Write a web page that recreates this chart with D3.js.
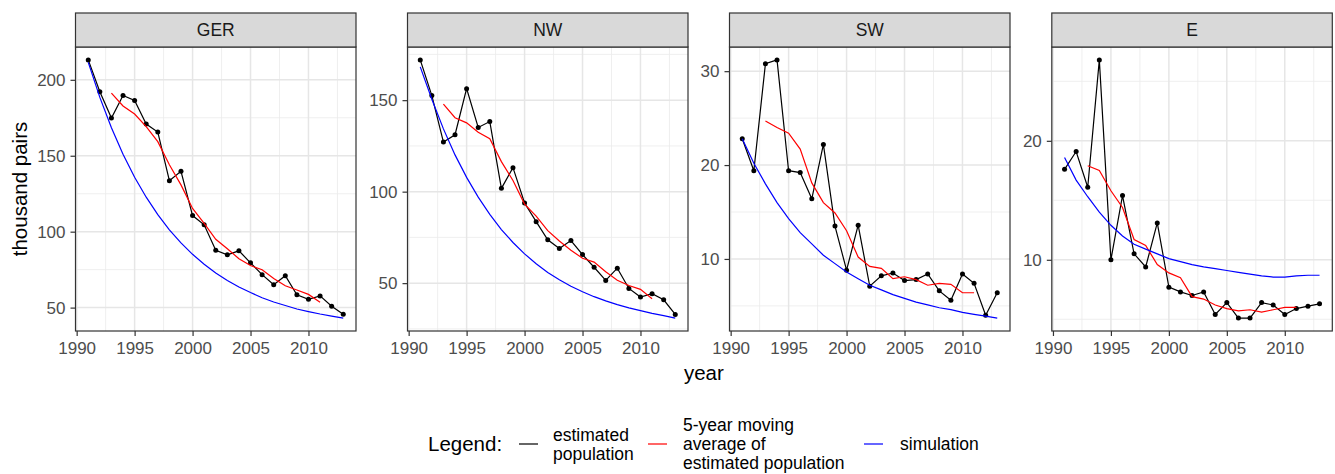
<!DOCTYPE html>
<html>
<head>
<meta charset="utf-8">
<script src="https://cdn.jsdelivr.net/npm/d3@7"></script>
<style>
  html, body { margin: 0; padding: 0; background: #ffffff; }
  svg { display: block; font-family: "Liberation Sans", Arial, sans-serif; }
</style>
</head>
<body>
<script>
// ---------------- data ----------------
const years = [1991,1992,1993,1994,1995,1996,1997,1998,1999,2000,2001,2002,2003,2004,2005,2006,2007,2008,2009,2010,2011,2012,2013];
const avgYears = [1993,1994,1995,1996,1997,1998,1999,2000,2001,2002,2003,2004,2005,2006,2007,2008,2009,2010,2011];
const regions = ["GER", "NW", "SW", "E"];

const gerEstimated = [213.1,192.1,174.8,189.7,186.4,170.9,165.6,133.6,139.8,110.6,104.5,87.8,84.8,87.4,79.5,71.7,65.1,71.0,58.5,55.5,57.7,50.9,45.6];
const gerAverage   = [191.2,182.8,177.5,169.2,159.3,144.1,130.8,115.3,105.5,95.0,88.8,82.2,77.7,74.9,69.2,64.4,61.6,58.7,53.6];
const gerSimulation= [211.5,188.4,168.4,151.0,135.8,122.7,111.2,101.2,92.6,85.1,78.6,72.8,67.8,63.6,59.9,56.5,53.7,51.4,49.1,47.4,45.8,44.4,43.1];

const nwEstimated  = [172.0,152.5,127.1,131.1,156.3,135.1,138.3,101.8,113.1,93.8,83.6,73.7,68.9,73.3,65.6,58.7,51.5,58.2,47.1,42.4,44.2,40.9,32.9];
const nwAverage    = [147.8,140.4,137.6,132.5,128.9,116.4,106.1,93.2,86.6,78.7,73.0,68.0,63.6,61.5,56.2,51.6,48.7,46.6,41.5];
const nwSimulation = [168.2,150.5,134.3,120.1,107.8,97.0,87.6,79.3,72.2,66.0,60.6,55.8,51.8,48.3,45.3,42.6,40.3,38.3,36.5,35.0,33.5,32.2,30.9];

const swEstimated  = [22.8,19.4,30.8,31.2,19.4,19.2,16.4,22.2,13.5,8.8,13.6,7.1,8.2,8.5,7.7,7.8,8.4,6.6,5.6,8.4,7.4,4.0,6.4];
const swAverage    = [24.7,24.0,23.4,21.7,18.1,16.0,14.9,13.0,10.2,9.2,9.0,7.9,8.1,7.8,7.2,7.4,7.3,6.4,6.4];
const swSimulation = [22.8,20.2,18.0,16.0,14.3,12.8,11.6,10.4,9.5,8.6,7.9,7.2,6.7,6.2,5.8,5.4,5.1,4.8,4.6,4.3,4.1,3.9,3.7];

const eEstimated   = [17.6,19.1,16.1,26.8,10.0,15.4,10.5,9.4,13.1,7.7,7.3,7.0,7.3,5.4,6.4,5.1,5.1,6.4,6.2,5.4,5.9,6.1,6.3];
const eAverage     = [17.9,17.5,15.8,14.4,11.7,11.2,9.6,8.9,8.5,6.9,6.7,6.2,5.9,5.7,5.8,5.6,5.8,6.0,6.0];
const eSimulation  = [18.6,16.7,15.3,14.0,12.9,12.0,11.3,10.9,10.5,10.1,9.85,9.6,9.4,9.25,9.1,8.95,8.8,8.65,8.55,8.55,8.65,8.7,8.7];

const xTickValues = [1990, 1995, 2000, 2005, 2010];
const gerYTicks = [50, 100, 150, 200];
const nwYTicks  = [50, 100, 150];
const swYTicks  = [10, 20, 30];
const eYTicks   = [10, 20];

const legendTitle = "Legend:";
const legendLabels = [["estimated", "population"], ["5-year moving", "average of", "estimated population"], ["simulation"]];
const seriesColors = ["#000000", "#ff0000", "#0000ff"];

// ---------------- layout ----------------
const W = 1335, H = 474;
const panelLefts = [75.5, 407.5, 729.5, 1051.8];
const panelW = 280.5;
const stripTop = 13, plotTop = 47, plotBottom = 331;

const panels = [
  { name: regions[0], est: gerEstimated, avg: gerAverage, sim: gerSimulation, ticks: gerYTicks },
  { name: regions[1], est: nwEstimated,  avg: nwAverage,  sim: nwSimulation,  ticks: nwYTicks },
  { name: regions[2], est: swEstimated,  avg: swAverage,  sim: swSimulation,  ticks: swYTicks },
  { name: regions[3], est: eEstimated,   avg: eAverage,   sim: eSimulation,   ticks: eYTicks }
];

function expand(ext) {
  const d = (ext[1] - ext[0]) * 0.05;
  return [ext[0] - d, ext[1] + d];
}
function minorBreaks(major, domain) {
  const step = major[1] - major[0];
  const out = [];
  for (let v = major[0] - step / 2; v <= major[major.length - 1] + step / 2 + 1e-9; v += step) {
    if (v >= domain[0] && v <= domain[1]) out.push(v);
  }
  return out;
}

const svg = d3.select("body").append("svg").attr("width", W).attr("height", H);

panels.forEach((p, i) => {
  const L = panelLefts[i];
  const x = d3.scaleLinear().domain(expand(d3.extent(years))).range([L, L + panelW]);
  const yExt = d3.extent(p.est.concat(p.avg, p.sim));
  const y = d3.scaleLinear().domain(expand(yExt)).range([plotBottom, plotTop]);
  const g = svg.append("g");

  g.append("rect").attr("x", L).attr("y", plotTop).attr("width", panelW).attr("height", plotBottom - plotTop).attr("fill", "#ffffff");

  const xMinor = minorBreaks(xTickValues, x.domain());
  const yMinor = minorBreaks(p.ticks, y.domain());
  g.selectAll(".xminor").data(xMinor).enter().append("line")
    .attr("x1", d => x(d)).attr("x2", d => x(d)).attr("y1", plotTop).attr("y2", plotBottom)
    .attr("stroke", "#ebebeb").attr("stroke-width", 0.8);
  g.selectAll(".yminor").data(yMinor).enter().append("line")
    .attr("x1", L).attr("x2", L + panelW).attr("y1", d => y(d)).attr("y2", d => y(d))
    .attr("stroke", "#ebebeb").attr("stroke-width", 0.8);
  g.selectAll(".xmajor").data(xTickValues).enter().append("line")
    .attr("x1", d => x(d)).attr("x2", d => x(d)).attr("y1", plotTop).attr("y2", plotBottom)
    .attr("stroke", "#e6e6e6").attr("stroke-width", 1.5);
  g.selectAll(".ymajor").data(p.ticks).enter().append("line")
    .attr("x1", L).attr("x2", L + panelW).attr("y1", d => y(d)).attr("y2", d => y(d))
    .attr("stroke", "#e6e6e6").attr("stroke-width", 1.5);

  const line = d3.line().x(d => x(d[0])).y(d => y(d[1]));
  const estPts = years.map((yr, k) => [yr, p.est[k]]);
  const avgPts = avgYears.map((yr, k) => [yr, p.avg[k]]);
  const simPts = years.map((yr, k) => [yr, p.sim[k]]);

  g.append("path").datum(estPts).attr("d", line).attr("fill", "none")
    .attr("stroke", seriesColors[0]).attr("stroke-width", 1.2);
  g.selectAll(".pt").data(estPts).enter().append("circle")
    .attr("cx", d => x(d[0])).attr("cy", d => y(d[1])).attr("r", 2.5).attr("fill", seriesColors[0]);
  g.append("path").datum(avgPts).attr("d", line).attr("fill", "none")
    .attr("stroke", seriesColors[1]).attr("stroke-width", 1.2);
  g.append("path").datum(simPts).attr("d", line).attr("fill", "none")
    .attr("stroke", seriesColors[2]).attr("stroke-width", 1.2);

  g.append("rect").attr("x", L).attr("y", plotTop).attr("width", panelW).attr("height", plotBottom - plotTop)
    .attr("fill", "none").attr("stroke", "#333333").attr("stroke-width", 1.2);

  g.append("rect").attr("x", L).attr("y", stripTop).attr("width", panelW).attr("height", plotTop - stripTop)
    .attr("fill", "#d9d9d9").attr("stroke", "#333333").attr("stroke-width", 1.2);
  g.append("text").attr("x", L + panelW / 2).attr("y", (stripTop + plotTop) / 2).attr("dy", "0.36em")
    .attr("text-anchor", "middle").attr("font-size", 17.5).attr("fill", "#1a1a1a").text(p.name);

  const ya = d3.axisLeft(y).tickValues(p.ticks).tickSize(5).tickSizeOuter(0).tickPadding(5);
  const yg = g.append("g").attr("transform", `translate(${L},0)`).call(ya);
  const xa = d3.axisBottom(x).tickValues(xTickValues).tickSize(5).tickSizeOuter(0).tickPadding(6).tickFormat(d3.format("d"));
  const xg = g.append("g").attr("transform", `translate(0,${plotBottom})`).call(xa);
  [yg, xg].forEach(a => {
    a.select(".domain").remove();
    a.selectAll(".tick line").attr("stroke", "#333333").attr("stroke-width", 1.2);
    a.selectAll(".tick text").attr("fill", "#4d4d4d").attr("font-size", 17)
      .attr("font-family", "'Liberation Sans', Arial, sans-serif");
  });
});

svg.append("text").attr("transform", `translate(20,${(plotTop + plotBottom) / 2}) rotate(-90)`)
  .attr("dy", "0.36em").attr("text-anchor", "middle").attr("font-size", 20.5).attr("fill", "#000")
  .text("thousand pairs");
svg.append("text").attr("x", (panelLefts[0] + panelLefts[3] + panelW) / 2).attr("y", 380)
  .attr("text-anchor", "middle").attr("font-size", 20.5).attr("fill", "#000").text("year");

const lg = svg.append("g");
const legendY = 444;
lg.append("text").attr("x", 428).attr("y", legendY).attr("dy", "0.36em").attr("font-size", 20.5).attr("fill", "#000").text(legendTitle);
const keyX = [519, 648, 864];
const textX = [553, 683, 900];
legendLabels.forEach((lines, k) => {
  lg.append("line").attr("x1", keyX[k]).attr("x2", keyX[k] + 19).attr("y1", legendY).attr("y2", legendY)
    .attr("stroke", seriesColors[k]).attr("stroke-width", 1.2);
  const lh = 19;
  const first = legendY - (lines.length - 1) * lh / 2;
  const t = lg.append("text").attr("font-size", 17.5).attr("fill", "#000");
  lines.forEach((s, j) => {
    t.append("tspan").attr("x", textX[k]).attr("y", first + j * lh).attr("dy", "0.36em").text(s);
  });
});
</script>
</body>
</html>
